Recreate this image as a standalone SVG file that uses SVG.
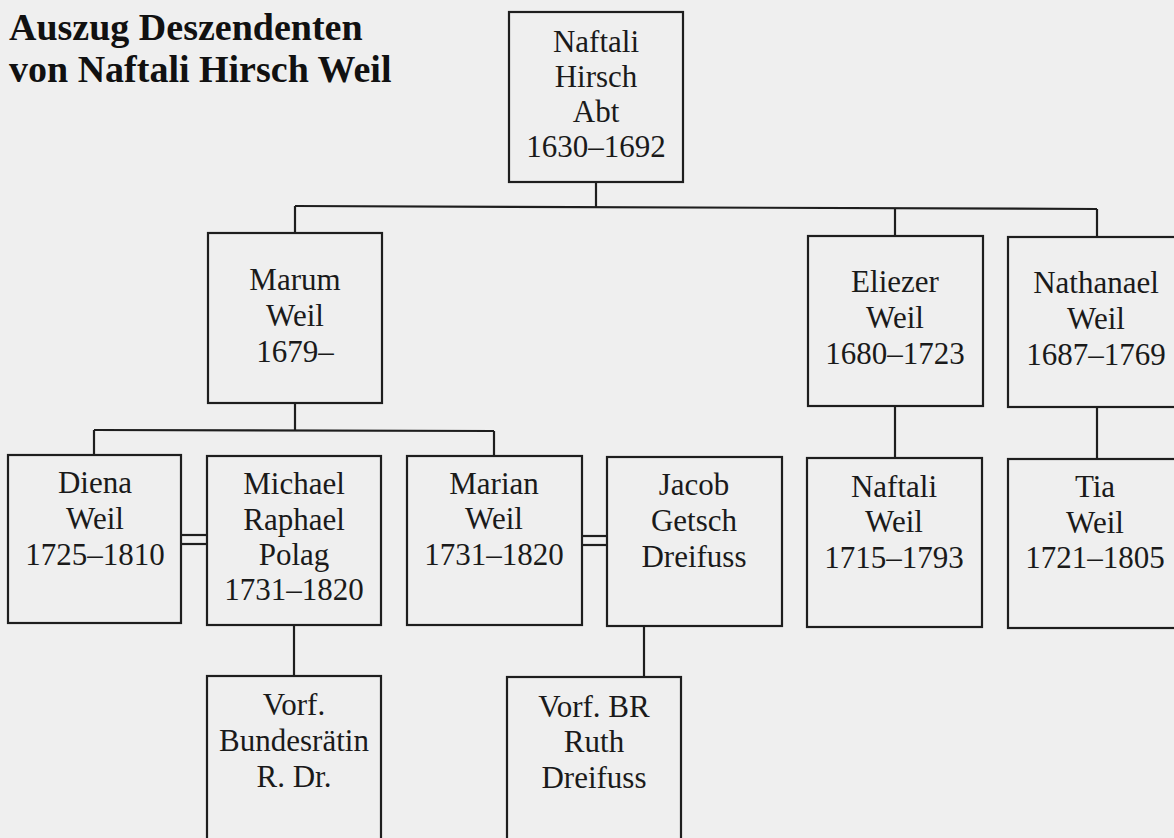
<svg xmlns="http://www.w3.org/2000/svg" width="1174" height="838" viewBox="0 0 1174 838">
<style>
.bg{fill:#efefef}
.box{fill:none;stroke:#1e1e1e;stroke-width:2.2}
.ln{fill:none;stroke:#1e1e1e;stroke-width:2.2}
.t{font-family:"Liberation Serif","Times New Roman",serif;font-size:31px;fill:#1a1a1a;text-anchor:middle}
.title{font-family:"Liberation Serif","Times New Roman",serif;font-size:38px;font-weight:bold;fill:#111}
</style>
<rect class="bg" x="0" y="0" width="1174" height="838"/>
<g id="title">
<text class="title" x="9" y="40">Auszug Deszendenten</text>
<text class="title" x="9" y="82">von Naftali Hirsch Weil</text>
</g>
<g id="connectors">
<line class="ln" x1="596" y1="182" x2="596" y2="207"/>
<line class="ln" x1="295" y1="206" x2="1097" y2="209"/>
<line class="ln" x1="295" y1="206" x2="295" y2="233"/>
<line class="ln" x1="895" y1="208" x2="895" y2="236"/>
<line class="ln" x1="1097" y1="209" x2="1097" y2="237"/>
<line class="ln" x1="295" y1="403" x2="295" y2="430"/>
<line class="ln" x1="94" y1="430" x2="494" y2="431"/>
<line class="ln" x1="94" y1="430" x2="94" y2="455"/>
<line class="ln" x1="494" y1="431" x2="494" y2="456"/>
<line class="ln" x1="895" y1="406" x2="895" y2="458"/>
<line class="ln" x1="1097" y1="407" x2="1097" y2="459"/>
<line class="ln" x1="181" y1="535" x2="207" y2="535"/>
<line class="ln" x1="181" y1="544" x2="207" y2="544"/>
<line class="ln" x1="582" y1="536" x2="607" y2="536"/>
<line class="ln" x1="582" y1="545" x2="607" y2="545"/>
<line class="ln" x1="294" y1="625" x2="294" y2="676"/>
<line class="ln" x1="644" y1="626" x2="644" y2="677"/>
</g>
<g id="n-naftali-hirsch">
<rect class="box" x="509" y="12" width="174" height="170"/>
<text class="t" x="596" y="52">Naftali</text>
<text class="t" x="596" y="87">Hirsch</text>
<text class="t" x="596" y="122">Abt</text>
<text class="t" x="596" y="157">1630–1692</text>
</g>
<g id="n-marum">
<rect class="box" x="208" y="233" width="174" height="170"/>
<text class="t" x="295" y="290">Marum</text>
<text class="t" x="295" y="326">Weil</text>
<text class="t" x="295" y="362">1679–</text>
</g>
<g id="n-eliezer">
<rect class="box" x="808" y="236" width="175" height="170"/>
<text class="t" x="895" y="292">Eliezer</text>
<text class="t" x="895" y="328">Weil</text>
<text class="t" x="895" y="364">1680–1723</text>
</g>
<g id="n-nathanael">
<rect class="box" x="1008" y="237" width="176" height="170"/>
<text class="t" x="1096" y="293">Nathanael</text>
<text class="t" x="1096" y="329">Weil</text>
<text class="t" x="1096" y="365">1687–1769</text>
</g>
<g id="n-diena">
<rect class="box" x="8" y="455" width="173" height="168"/>
<text class="t" x="95" y="493">Diena</text>
<text class="t" x="95" y="529">Weil</text>
<text class="t" x="95" y="565">1725–1810</text>
</g>
<g id="n-michael">
<rect class="box" x="207" y="456" width="174" height="169"/>
<text class="t" x="294" y="494">Michael</text>
<text class="t" x="294" y="530">Raphael</text>
<text class="t" x="294" y="565">Polag</text>
<text class="t" x="294" y="600">1731–1820</text>
</g>
<g id="n-marian">
<rect class="box" x="407" y="456" width="175" height="169"/>
<text class="t" x="494" y="494">Marian</text>
<text class="t" x="494" y="529">Weil</text>
<text class="t" x="494" y="565">1731–1820</text>
</g>
<g id="n-jacob">
<rect class="box" x="607" y="457" width="175" height="169"/>
<text class="t" x="694" y="495">Jacob</text>
<text class="t" x="694" y="531">Getsch</text>
<text class="t" x="694" y="567">Dreifuss</text>
</g>
<g id="n-naftali-weil">
<rect class="box" x="807" y="458" width="175" height="169"/>
<text class="t" x="894" y="497">Naftali</text>
<text class="t" x="894" y="532">Weil</text>
<text class="t" x="894" y="568">1715–1793</text>
</g>
<g id="n-tia">
<rect class="box" x="1008" y="459" width="176" height="169"/>
<text class="t" x="1095" y="497">Tia</text>
<text class="t" x="1095" y="533">Weil</text>
<text class="t" x="1095" y="568">1721–1805</text>
</g>
<g id="n-vorf-1">
<rect class="box" x="207" y="676" width="174" height="180"/>
<text class="t" x="294" y="715">Vorf.</text>
<text class="t" x="294" y="751">Bundesrätin</text>
<text class="t" x="294" y="787">R. Dr.</text>
</g>
<g id="n-vorf-2">
<rect class="box" x="507" y="677" width="174" height="180"/>
<text class="t" x="594" y="717">Vorf. BR</text>
<text class="t" x="594" y="752">Ruth</text>
<text class="t" x="594" y="788">Dreifuss</text>
</g>
</svg>
